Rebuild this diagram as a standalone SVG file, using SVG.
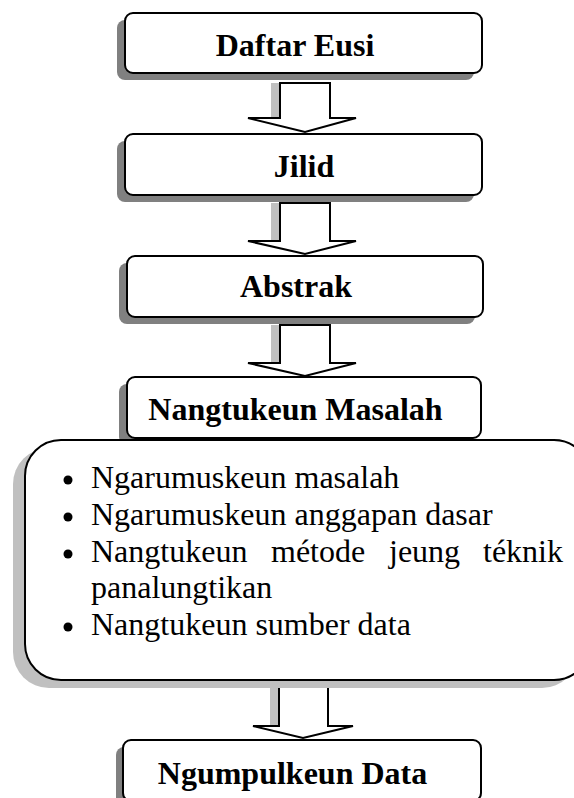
<svg xmlns="http://www.w3.org/2000/svg" width="574" height="798" viewBox="0 0 574 798">
<style>
.bg{fill:#ffffff}
.shadow{fill:#808080}
.lshadow{fill:#c0c0c0}
.box{fill:#ffffff;stroke:#000000;stroke-width:2}
.arrow{fill:#ffffff;stroke:#000000;stroke-width:2;stroke-linejoin:miter}
.title{font-family:"Liberation Serif","Times New Roman",serif;font-weight:bold;font-size:32px;fill:#000000;text-anchor:middle}
.body{font-family:"Liberation Serif","Times New Roman",serif;font-size:32px;fill:#000000}
</style>
<rect class="bg" x="0" y="0" width="574" height="798"/>
<g id="connectors">
  <rect class="lshadow" x="271" y="83" width="9" height="35"/>
  <path class="arrow" d="M280,83 L330,83 L330,118 L356,118 L305,132 L248,118 L280,118 Z"/>
  <rect class="lshadow" x="271" y="203" width="9" height="38"/>
  <path class="arrow" d="M280,203 L330,203 L330,241 L356,241 L305,254 L248,241 L280,241 Z"/>
  <rect class="lshadow" x="271" y="325" width="9" height="38"/>
  <path class="arrow" d="M280,325 L330,325 L330,363 L356,363 L305,376 L248,363 L280,363 Z"/>
  <rect class="lshadow" x="270" y="687" width="9" height="39"/>
  <path class="arrow" d="M279,687 L328,687 L328,726 L353,726 L303,738 L253,726 L279,726 Z"/>
</g>
<g id="node-daftar-eusi">
  <rect class="shadow" x="117" y="20" width="357" height="60" rx="8"/>
  <rect class="box" x="125" y="13" width="357" height="60" rx="8"/>
  <text class="title" x="295" y="56">Daftar Eusi</text>
</g>
<g id="node-jilid">
  <rect class="shadow" x="117" y="141" width="357" height="61" rx="8"/>
  <rect class="box" x="125" y="134" width="357" height="61" rx="8"/>
  <text class="title" x="304" y="177">Jilid</text>
</g>
<g id="node-abstrak">
  <rect class="shadow" x="119" y="263" width="356" height="61" rx="8"/>
  <rect class="box" x="127" y="256" width="356" height="61" rx="8"/>
  <text class="title" x="296" y="297">Abstrak</text>
</g>
<g id="node-nangtukeun-masalah">
  <rect class="shadow" x="119" y="384" width="354" height="61" rx="8"/>
  <rect class="box" x="127" y="377" width="354" height="61" rx="8"/>
  <text class="title" x="295.5" y="420">Nangtukeun Masalah</text>
</g>
<g id="node-details">
  <rect class="lshadow" x="13" y="448" width="565" height="240" rx="36"/>
  <rect class="box" x="25" y="440" width="565" height="240" rx="36"/>
  <circle cx="68" cy="480" r="4.5"/>
  <circle cx="68" cy="517" r="4.5"/>
  <circle cx="68" cy="554" r="4.5"/>
  <circle cx="68" cy="627" r="4.5"/>
  <text class="body" x="91" y="488">Ngarumuskeun masalah</text>
  <text class="body" x="91" y="525">Ngarumuskeun anggapan dasar</text>
  <text class="body" y="562"><tspan x="91">Nangtukeun</tspan><tspan x="271">métode</tspan><tspan x="389">jeung</tspan><tspan x="563" text-anchor="end">téknik</tspan></text>
  <text class="body" x="91" y="598">panalungtikan</text>
  <text class="body" x="91" y="635">Nangtukeun sumber data</text>
</g>
<g id="node-ngumpulkeun-data">
  <rect class="shadow" x="116" y="747" width="358" height="61" rx="8"/>
  <rect class="box" x="123" y="740" width="358" height="61" rx="8"/>
  <text class="title" x="292.5" y="784">Ngumpulkeun Data</text>
</g>
</svg>
